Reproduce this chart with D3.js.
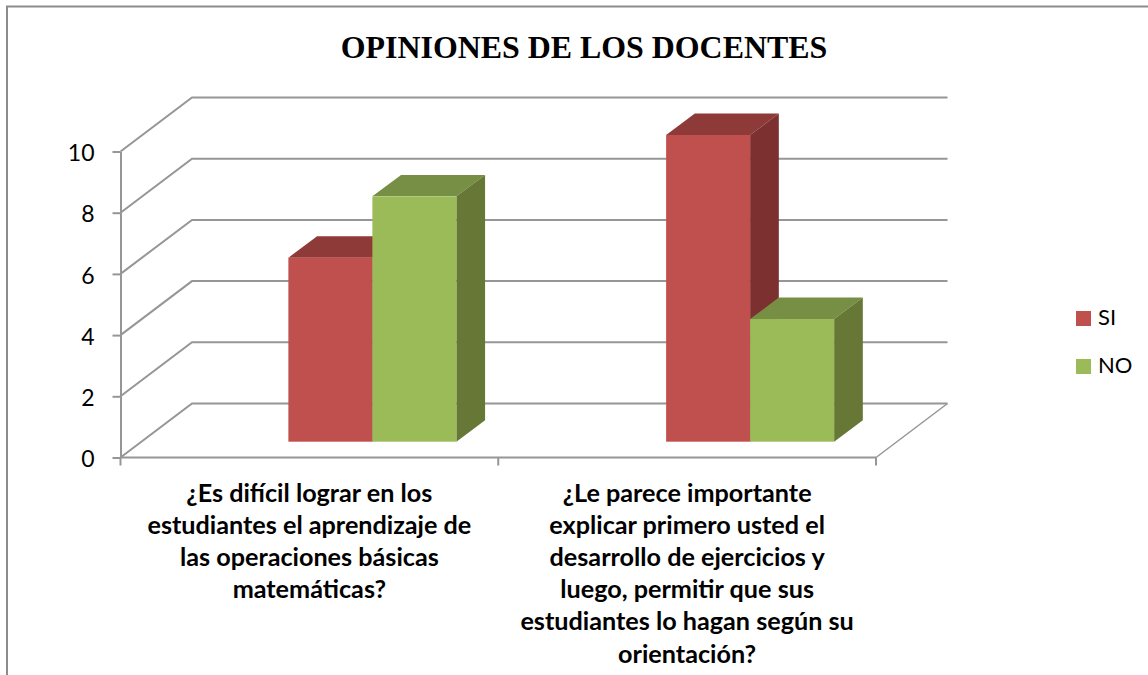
<!DOCTYPE html>
<html><head><meta charset="utf-8">
<script src="https://cdn.jsdelivr.net/npm/d3@7"></script>
<style>html,body{margin:0;padding:0;background:#fff}svg{display:block}</style></head>
<body><svg id="c" width="1148" height="675"></svg>
<script>
const categories = [
  ["¿Es difícil lograr en los","estudiantes el aprendizaje de","las operaciones básicas","matemáticas?"],
  ["¿Le parece importante","explicar primero usted el","desarrollo de ejercicios y","luego, permitir que sus","estudiantes lo hagan según su","orientación?"]
];
const seriesNames = ["SI","NO"];
const siValues = [6,10];
const noValues = [8,4];
const yTicks = [0,2,4,6,8,10];
const titleText = "OPINIONES DE LOS DOCENTES";

const front = {"SI":"#c0504d","NO":"#9bbb59"};
const topC = {"SI":"#8e3a38","NO":"#778f44"};
const sideC = {"SI":"#7c3130","NO":"#667736"};
const grid = "#969696";

const svg = d3.select("#c");
// chart frame
svg.append("path").attr("d","M7,675V6.6H1148").attr("fill","none").attr("stroke","#8c8c8c").attr("stroke-width",2);

const x0 = d3.scaleBand().domain(d3.range(categories.length)).range([120.5,876]);
const y = d3.scaleLinear().domain([0,10]).range([457.5,151.5]);
const yBar = d3.scaleLinear().domain([0,10]).range([441.7,135]);
const x1 = d3.scaleBand().domain(seriesNames).range([0,168]);
const depth = {dx:71.5,dy:-54};
const barDepth = {dx:28.7,dy:-21.4};
const barShift = 63; // bars' front-plane offset from the band centre

const g = svg.append("g");
// gridlines: floor/side and back wall
yTicks.forEach(t=>{
  g.append("path").attr("d",`M${x0.range()[0]},${y(t)}l${depth.dx},${depth.dy}H${x0.range()[1]+depth.dx}`)
   .attr("fill","none").attr("stroke",grid).attr("stroke-width",2);
});
// floor front-right edge
g.append("path").attr("d",`M${x0.range()[1]},${y(0)}l${depth.dx},${depth.dy}`).attr("fill","none").attr("stroke",grid).attr("stroke-width",1.5);

// axes (library axes)
const yAxis = d3.axisLeft(y).tickValues(yTicks).tickSize(8).tickSizeOuter(0).tickPadding(18).tickFormat(d3.format("d"));
const ya = svg.append("g").attr("transform",`translate(${x0.range()[0]},0)`).call(yAxis);
const xTickPos = [0,1,2].map(i=>x0.range()[0]+i*x0.step());
const xa = svg.append("g");
xa.append("path").attr("d",`M${x0.range()[0]},${y(0)}H${x0.range()[1]}`).attr("stroke",grid).attr("stroke-width",2);
xa.selectAll("line").data(xTickPos).join("line").attr("x1",d=>d).attr("x2",d=>d).attr("y1",y(0)).attr("y2",y(0)+8).attr("stroke",grid).attr("stroke-width",2);
ya.selectAll("path.domain").attr("stroke",grid).attr("stroke-width",2);
ya.selectAll("line").attr("stroke",grid).attr("stroke-width",2);
ya.selectAll("text").attr("fill","#000").style("font-family","Lato, 'Open Sans', sans-serif").style("font-size","23px").attr("dy","0.4em");

// bars
const rows = categories.map((c,i)=>({i,SI:siValues[i],NO:noValues[i]}));
const order = ["SI","NO"];
rows.forEach(r=>{
  const cx = x0(r.i)+x0.bandwidth()/2+barShift-84;
  order.forEach(s=>{
    const xl = cx+x1(s), w = x1.bandwidth(), yt = yBar(r[s]), yb = yBar(0);
    const b = g.append("g");
    b.append("path").attr("d",`M${xl},${yt}l${barDepth.dx},${barDepth.dy}h${w}l${-barDepth.dx},${-barDepth.dy}Z`).attr("fill",topC[s]);
    b.append("path").attr("d",`M${xl+w},${yt}l${barDepth.dx},${barDepth.dy}V${yb+barDepth.dy}l${-barDepth.dx},${-barDepth.dy}Z`).attr("fill",sideC[s]);
    b.append("rect").attr("x",xl).attr("y",yt).attr("width",w).attr("height",yb-yt).attr("fill",front[s]);
  });
});

// category labels
const lab = svg.append("g").style("font-family","Lato, 'Open Sans', sans-serif").style("font-weight","700").style("font-size","25.2px").attr("fill","#000").attr("text-anchor","middle");
categories.forEach((lines,i)=>{
  const cx = x0(i)+x0.bandwidth()/2;
  lines.forEach((l,j)=>lab.append("text").attr("x",cx).attr("y",501.5+j*32.2).text(l));
});

// title
svg.append("text").attr("x",584).attr("y",58).attr("text-anchor","middle")
  .style("font-family","'Liberation Serif', serif").style("font-weight","700").style("font-size","31.9px").text(titleText);

// legend
const leg = svg.append("g").selectAll("g").data(seriesNames).join("g").attr("transform",(d,i)=>`translate(1076,${311+i*48})`);
leg.append("rect").attr("width",15).attr("height",15).attr("fill",d=>front[d]);
leg.append("text").attr("x",22).attr("y",14).text(d=>d).style("font-family","Lato, 'Open Sans', sans-serif").style("font-size","22px");
</script></body></html>
